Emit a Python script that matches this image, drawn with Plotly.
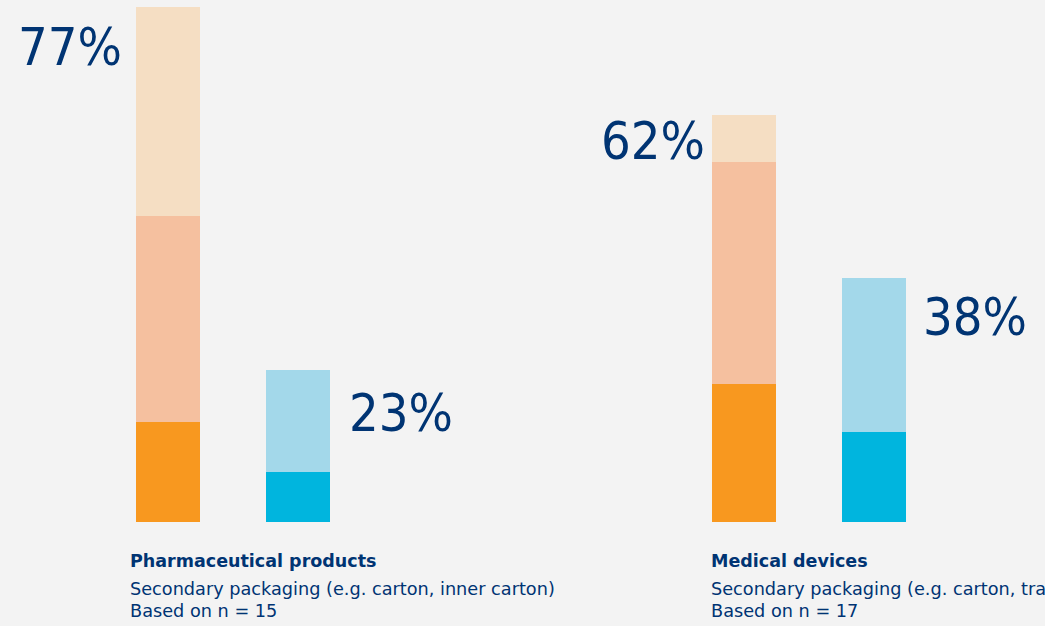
import plotly.graph_objects as go

# ---- data ----
groups = ["Pharmaceutical products", "Medical devices"]
subtitles = ["Secondary packaging (e.g. carton, inner carton)",
             "Secondary packaging (e.g. carton, tray)"]
sample_sizes = [15, 17]
bar_names = ["orange", "blue"]

# orange stack: bottom, middle, top segments (%)
orange_bottom = [15.0, 20.7]
orange_middle = [30.9, 33.3]
orange_top = [31.2, 6.9]
# blue stack: bottom, top segments (%)
blue_bottom = [7.5, 13.5]
blue_top = [15.3, 23.1]

orange_labels = ["77%", "62%"]
blue_labels = ["23%", "38%"]

# ---- styles ----
BG = "#F3F3F3"
NAVY = "#003473"
C_OR_DARK = "#F8981F"
C_OR_MID = "#F5C09F"
C_OR_LIGHT = "#F5DEC3"
C_BL_DARK = "#00B5DE"
C_BL_LIGHT = "#A3D8EA"
PCT_FONT = "'DejaVu Sans Condensed', 'DejaVu Sans', sans-serif"
TXT_FONT = "Verdana, 'DejaVu Sans', sans-serif"

W, H = 1045, 626
PLOT_H = 522
fig = go.Figure()

axes = ["x", "x2"]
for i, ax in enumerate(axes):
    segs = [
        (bar_names[0], orange_bottom[i], C_OR_DARK),
        (bar_names[0], orange_middle[i], C_OR_MID),
        (bar_names[0], orange_top[i], C_OR_LIGHT),
        (bar_names[1], blue_bottom[i], C_BL_DARK),
        (bar_names[1], blue_top[i], C_BL_LIGHT),
    ]
    for cat, val, col in segs:
        fig.add_trace(go.Bar(x=[cat], y=[val], marker=dict(color=col, line=dict(width=0)),
                             xaxis=ax, yaxis="y", showlegend=False, hoverinfo="skip"))

# percentage labels
shifts_or = [(-12, -40), (-5, -26)]
shifts_bl = [(17, -43), (15, -39)]
caption_shift = [-40, -35]
for i, ax in enumerate(axes):
    ot = orange_bottom[i] + orange_middle[i] + orange_top[i]
    bt = blue_bottom[i] + blue_top[i]
    fig.add_annotation(x=bar_names[0], y=ot, xref=ax, yref="y", text=orange_labels[i],
                       showarrow=False, xanchor="right", yanchor="middle",
                       xshift=-32 + shifts_or[i][0], yshift=shifts_or[i][1],
                       font=dict(family=PCT_FONT, size=52, color=NAVY))
    fig.add_annotation(x=bar_names[1], y=bt, xref=ax, yref="y", text=blue_labels[i],
                       showarrow=False, xanchor="left", yanchor="middle",
                       xshift=32 + shifts_bl[i][0], yshift=shifts_bl[i][1],
                       font=dict(family=PCT_FONT, size=52, color=NAVY))
    # captions
    lines = [(f"<b>{groups[i]}</b>", 561, 17.5), (subtitles[i], 589, 17.7),
             (f"Based on n = {sample_sizes[i]}", 611, 17.7)]
    for txt, ypx, fs in lines:
        fig.add_annotation(x=bar_names[0], xref=ax, y=(PLOT_H - ypx) / PLOT_H, yref="paper",
                           text=txt, showarrow=False, xanchor="left", yanchor="middle",
                           xshift=caption_shift[i], font=dict(family=TXT_FONT, size=fs, color=NAVY))

ymax = PLOT_H / 6.675
fig.update_layout(
    width=W, height=H, barmode="stack", bargap=0.508,
    paper_bgcolor=BG, plot_bgcolor=BG,
    margin=dict(l=0, r=0, t=0, b=H - PLOT_H),
    xaxis=dict(domain=[103 / W, 363 / W], visible=False, anchor="y",
               type="category", range=[-0.5, 1.5]),
    xaxis2=dict(domain=[679 / W, 939 / W], visible=False, anchor="y",
                type="category", range=[-0.5, 1.5]),
    yaxis=dict(range=[0, ymax], visible=False),
)
fig.write_html("out.html", config={"displayModeBar": False},
               post_script="document.body.style.margin='0px';document.body.style.overflow='hidden';")
